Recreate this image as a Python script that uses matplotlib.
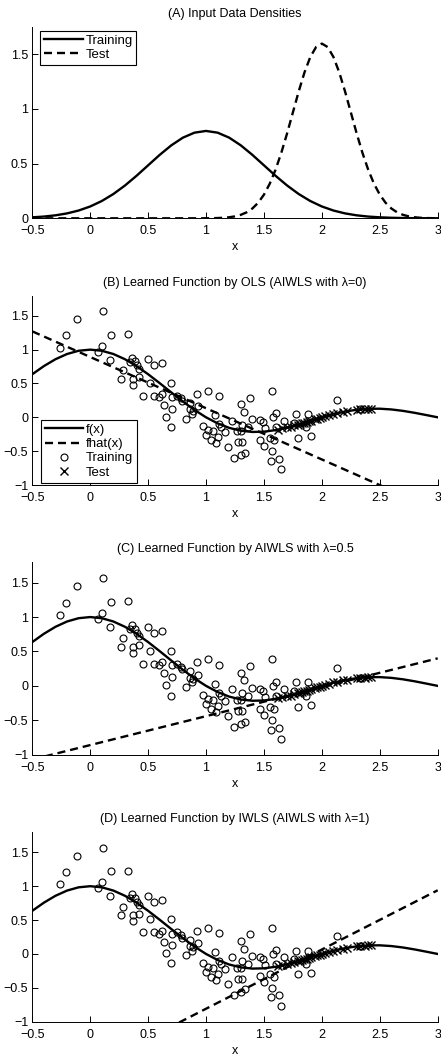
import numpy as np
import matplotlib
matplotlib.use("Agg")
import matplotlib.pyplot as plt

plt.rcParams['font.family'] = ['Liberation Sans', 'DejaVu Sans']
plt.rcParams['font.size'] = 9

# densities
dens_train_x = np.linspace(-0.5, 3.0, 36)
dens_train = [0.0089, 0.0158, 0.0272, 0.0448, 0.0710, 0.1080, 0.1579, 0.2218, 0.2995, 0.3884,
              0.4839, 0.5794, 0.6664, 0.7365, 0.7821, 0.7979, 0.7821, 0.7365, 0.6664, 0.5794,
              0.4839, 0.3884, 0.2995, 0.2218, 0.1579, 0.1080, 0.0710, 0.0448, 0.0272, 0.0158,
              0.0089, 0.0048, 0.0025, 0.0012, 0.0006, 0.0003]
dens_test_x = np.linspace(-0.5, 3.0, 71)
dens_test = [0.0] * 30 + [
    0.0005, 0.0012, 0.0024, 0.0049, 0.0095, 0.0177, 0.0317, 0.0543, 0.0896, 0.1419,
    0.2160, 0.3158, 0.4437, 0.5989, 0.7767, 0.9679, 1.1588, 1.3329, 1.4731, 1.5642,
    1.5958,
    1.5642, 1.4731, 1.3329, 1.1588, 0.9679, 0.7767, 0.5989, 0.4437, 0.3158, 0.2160,
    0.1419, 0.0896, 0.0543, 0.0317, 0.0177, 0.0095, 0.0049, 0.0024, 0.0012, 0.0005]

# true function f(x)
fx_x = np.linspace(-0.5, 3.0, 36)
fx_y = [0.6366, 0.7568, 0.8584, 0.9355, 0.9836, 1.0, 0.9836, 0.9355, 0.8584, 0.7568,
        0.6366, 0.5046, 0.3679, 0.2339, 0.1093, 0.0, -0.0894, -0.1559, -0.1981, -0.2162,
        -0.2122, -0.1892, -0.1515, -0.1039, -0.0518, 0.0, 0.0468, 0.0850, 0.1120, 0.1261,
        0.1273, 0.1164, 0.0954, 0.0668, 0.0339, 0.0]

# training samples
train_x = [-0.26, -0.21, -0.11, 0.07, 0.10, 0.11, 0.17, 0.18, 0.27, 0.28,
           0.33, 0.34, 0.36, 0.37, 0.37, 0.39, 0.40, 0.42, 0.42, 0.46,
           0.50, 0.52, 0.55, 0.55, 0.59, 0.62, 0.62, 0.64, 0.65, 0.70,
           0.70, 0.71, 0.71, 0.75, 0.78, 0.79, 0.83, 0.86, 0.86, 0.88,
           0.89, 0.92, 0.93, 0.97, 1.00, 1.02, 1.02, 1.04, 1.06, 1.08,
           1.09, 1.10, 1.11, 1.11, 1.13, 1.16, 1.19, 1.22, 1.24, 1.27,
           1.28, 1.30, 1.30, 1.31, 1.31, 1.30, 1.33, 1.34, 1.36, 1.38,
           1.40, 1.47, 1.47, 1.49, 1.50, 1.51, 1.55, 1.56, 1.57, 1.57,
           1.58, 1.59, 1.60, 1.60, 1.63, 1.65, 1.67, 1.76, 1.78, 1.79,
           1.86, 1.88, 1.91, 2.13, 2.33]
train_y = [1.03, 1.21, 1.45, 0.97, 1.06, 1.57, 0.85, 1.22, 0.57, 0.70,
           1.23, 0.82, 0.88, 0.57, 0.48, 0.83, 0.77, 0.72, 0.59, 0.32,
           0.86, 0.51, 0.77, 0.32, 0.30, 0.80, 0.34, 0.18, 0.01, 0.51,
           -0.14, 0.30, 0.13, 0.32, 0.28, 0.24, -0.02, 0.21, 0.12, 0.05,
           0.10, 0.34, 0.16, -0.13, -0.26, 0.39, -0.19, -0.34, -0.20, 0.03,
           -0.38, -0.29, 0.31, -0.10, -0.15, -0.22, -0.44, -0.05, -0.60, -0.20,
           -0.37, 0.19, -0.20, -0.11, -0.37, -0.56, 0.08, -0.52, -0.15, 0.29,
           -0.03, -0.04, -0.33, -0.07, -0.42, -0.16, -0.30, -0.64, -0.50, 0.39,
           0.00, -0.34, -0.15, 0.06, -0.61, -0.77, -0.05, -0.08, 0.05, -0.30,
           -0.15, 0.05, -0.28, 0.26, 0.12]

# test samples
test_x = [1.62, 1.66, 1.70, 1.73, 1.76, 1.79, 1.81, 1.83, 1.85, 1.87,
          1.89, 1.91, 1.94, 1.96, 1.98, 2.00, 2.03, 2.06, 2.10, 2.13,
          2.18, 2.22, 2.30, 2.33, 2.37, 2.40, 2.42]
test_y = [-0.18, -0.16, -0.15, -0.14, -0.12, -0.11, -0.10, -0.09, -0.08, -0.07,
          -0.06, -0.05, -0.03, -0.02, -0.01, 0.00, 0.02, 0.03, 0.05, 0.06,
          0.08, 0.09, 0.11, 0.12, 0.12, 0.13, 0.13]

# learned lines (endpoints read at x=-0.5 and x=3)
fhat_x = [-0.5, 3.0]
fhat_ols = [1.27, -1.38]
fhat_aiwls = [-1.07, 0.40]
fhat_iwls = [-2.12, 0.94]

titles = ['(A) Input Data Densities',
          '(B) Learned Function by OLS (AIWLS with \u03bb=0)',
          '(C) Learned Function by AIWLS with \u03bb=0.5',
          '(D) Learned Function by IWLS (AIWLS with \u03bb=1)']

W, H = 441, 1057
rects = [(32.3, 26.7, 218.3), (32.3, 295.5, 485.0), (32.3, 562.0, 754.7), (32.3, 832.0, 1021.7)]
right = 437.7

fig = plt.figure(figsize=(W / 100, H / 100), dpi=100)
axs = []
for (l, t, b) in rects:
    ax = fig.add_axes([l / W, 1 - b / H, (right - l) / W, (b - t) / H])
    axs.append(ax)

lw = 1.7
dash = (0, (3.4, 2.1))

def style(ax, title):
    ax.set_xlim(-0.5, 3)
    ax.set_xticks(np.arange(-0.5, 3.01, 0.5))
    ax.set_xticklabels(['\u22120.5', '0', '0.5', '1', '1.5', '2', '2.5', '3'])
    ax.spines['top'].set_visible(False)
    ax.spines['right'].set_visible(False)
    for s in ['left', 'bottom']:
        ax.spines[s].set_linewidth(0.7)
    ax.tick_params(direction='in', length=4, width=0.7, labelsize=9)
    ax.tick_params(axis='x', pad=5)
    ax.tick_params(axis='y', pad=3)
    ax.set_title(title, fontsize=9, pad=7)
    ax.set_xlabel('x', fontsize=9, labelpad=3)

# panel A
ax = axs[0]
ax.plot(dens_train_x, dens_train, 'k-', lw=lw, label='Training')
ax.plot(dens_test_x, dens_test, 'k', ls=dash, lw=lw, label='Test')
ax.set_ylim(0, 1.75)
ax.set_yticks([0, 0.5, 1, 1.5])
ax.set_yticklabels(['0', '0.5', '1', '1.5'])
style(ax, titles[0])
leg = ax.legend(loc='upper left', bbox_to_anchor=(0.02, 0.98), fancybox=False,
                edgecolor='k', framealpha=1, handlelength=2.9, handletextpad=0.2,
                borderpad=0.3, labelspacing=0.15, borderaxespad=0, fontsize=9.5)
leg.get_frame().set_linewidth(0.8)

# panels B-D
for ax, fh, title in zip(axs[1:], [fhat_ols, fhat_aiwls, fhat_iwls], titles[1:]):
    ax.plot(fx_x, fx_y, 'k-', lw=lw, label='f(x)')
    ax.plot(fhat_x, fh, 'k', ls=dash, lw=lw, label='fhat(x)')
    ax.plot(train_x, train_y, 'o', mfc='none', mec='k', ms=5, mew=0.8, label='Training')
    ax.plot(test_x, test_y, 'x', color='k', ms=5.5, mew=1.0, label='Test')
    ax.set_ylim(-1, 1.8)
    ax.set_yticks([-1, -0.5, 0, 0.5, 1, 1.5])
    ax.set_yticklabels(['\u22121', '\u22120.5', '0', '0.5', '1', '1.5'])
    style(ax, title)

leg = axs[1].legend(loc='lower left', bbox_to_anchor=(0.022, 0.013), fancybox=False,
                    edgecolor='k', framealpha=1, handlelength=2.9, handletextpad=0.2,
                    borderpad=0.3, labelspacing=0.15, borderaxespad=0, fontsize=9.5)
leg.get_frame().set_linewidth(0.8)

fig.savefig('out.png', dpi=100)
